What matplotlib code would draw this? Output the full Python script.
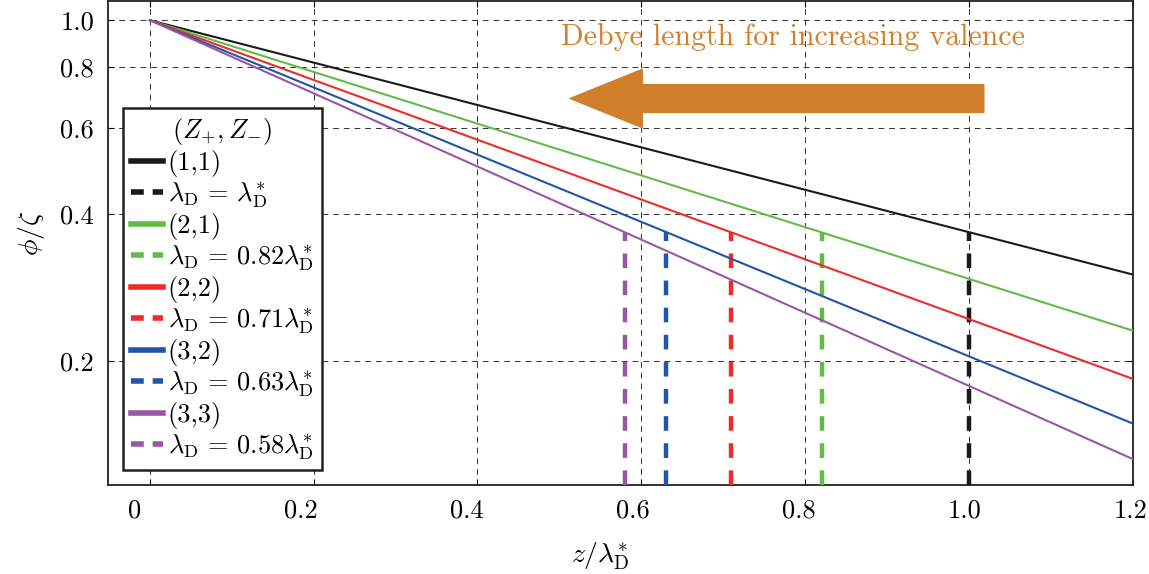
import numpy as np
import matplotlib
matplotlib.use("Agg")
import matplotlib.pyplot as plt
from matplotlib.lines import Line2D

plt.rcParams['font.family'] = 'serif'
plt.rcParams['font.serif'] = ['cmr10']
plt.rcParams['mathtext.fontset'] = 'cm'
plt.rcParams['axes.unicode_minus'] = False

# data (straight lines on log axis: start and end value)
pairs = ['(1,1)', '(2,1)', '(2,2)', '(3,2)', '(3,3)']
lam = [1.0, 0.82, 0.71, 0.63, 0.58]          # Debye length / lambda_D*
lam_txt = ['', '0.82', '0.71', '0.63', '0.58']
z_start, z_end = 0.0, 1.2
phi_start = [1.0, 1.0, 1.0, 1.0, 1.0]
phi_end = [0.301, 0.231, 0.184, 0.149, 0.126]
phi_mark = 0.368                              # height of dashed markers
colors = ['#1a1a1a', '#62bb46', '#ee2c27', '#1f56a5', '#9b55a6']

xticks = [0, 0.2, 0.4, 0.6, 0.8, 1.0, 1.2]
xticklabels = ['0', '0.2', '0.4', '0.6', '0.8', '1.0', '1.2']
yticks = [0.2, 0.4, 0.6, 0.8, 1.0]
yticklabels = ['0.2', '0.4', '0.6', '0.8', '1.0']

fig = plt.figure(figsize=(11.49, 5.74), dpi=100)
ax = fig.add_axes([0.094, 0.155, 0.892, 0.843])
ax.set_yscale('log')
ax.set_xlim(-0.051, 1.2)
ax.set_ylim(0.1115, 1.094)

for i in range(len(pairs)):
    ax.plot([z_start, z_end], [phi_start[i], phi_end[i]], color=colors[i], lw=1.5, zorder=3)
    ax.vlines(lam[i], ax.get_ylim()[0], phi_mark, colors=colors[i], lw=3.2,
              linestyles=(0, (3.3, 2.8)), zorder=3)

# axes, ticks, grid
ax.set_xticks(xticks)
ax.set_xticklabels([])
ax.set_yticks(yticks)
ax.set_yticklabels(yticklabels)
ax.yaxis.set_minor_locator(matplotlib.ticker.NullLocator())
ax.tick_params(which='both', direction='in', length=4, width=0.8, top=True, right=True,
               labelsize=19, pad=10)
ax.grid(True, color='#333333', lw=0.7, ls=(0, (6, 5)))
for s in ax.spines.values():
    s.set_linewidth(1.3)
    s.set_color('#222222')

# tick labels sit slightly off the grid in the original
sec = ax.secondary_xaxis('bottom', functions=(lambda x: (15 + 818 * np.asarray(x)) / 829,
                                              lambda u: (829 * np.asarray(u) - 15) / 818))
sec.set_xticks(xticks)
sec.set_xticklabels(xticklabels)
sec.tick_params(length=0, labelsize=19, pad=10)
sec.spines['bottom'].set_visible(False)

ax.set_xlabel(r'$z/\lambda_{\rm D}^{*}$', fontsize=20)
ax.xaxis.set_label_coords(0.48, -0.115)
ax.set_ylabel(r'$\phi/\zeta$', fontsize=20)
ax.yaxis.set_label_coords(-0.06, 0.52)

# arrow + note
ax.annotate('', xy=(0.513, 0.691), xytext=(1.018, 0.691),
            arrowprops=dict(arrowstyle='simple,head_length=2.6,head_width=2.1,tail_width=1.0',
                            mutation_scale=20, color='#d17f2b', shrinkA=0, shrinkB=0))
ax.text(0.785, 0.925, 'Debye length for increasing valence', color='#d17f2b',
        fontsize=21.5, ha='center', va='center')

# legend
handles, labels = [], []
for i in range(len(pairs)):
    handles.append(Line2D([], [], color=colors[i], lw=4))
    labels.append(pairs[i])
    handles.append(Line2D([], [], color=colors[i], lw=4, ls=(0, (2.3, 1.6))))
    if lam_txt[i]:
        labels.append(r'$\lambda_{\rm D}\,=\,%s\lambda_{\rm D}^{*}$' % lam_txt[i])
    else:
        labels.append(r'$\lambda_{\rm D}\,=\,\lambda_{\rm D}^{*}$')
leg = ax.legend(handles, labels, title=r'$(Z_{+}, Z_{-})$', loc='lower left',
                bbox_to_anchor=(0.0146, 0.031), borderaxespad=0, fontsize=19,
                title_fontsize=19, handlelength=1.2, handletextpad=0.2,
                labelspacing=0.12, borderpad=0.3, fancybox=False, framealpha=1)
leg.get_frame().set_edgecolor('#222222')
leg.get_frame().set_linewidth(1.8)
leg.set_zorder(5)

fig.savefig('out.png', dpi=100)
